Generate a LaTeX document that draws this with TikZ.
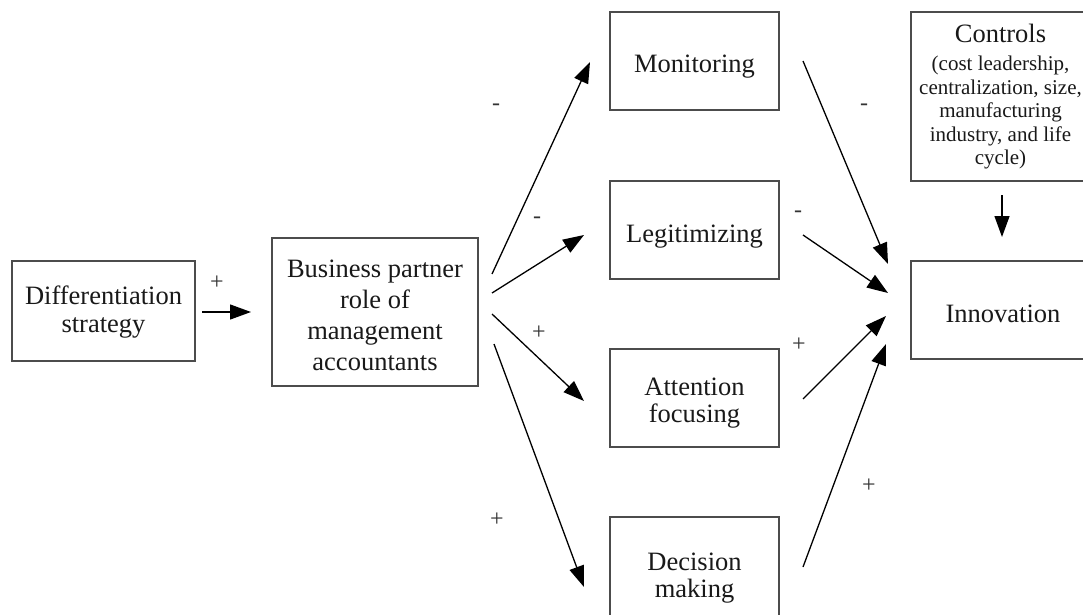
\documentclass[tikz,border=0pt]{standalone}
\usepackage{fontspec}
\setmainfont{Liberation Serif}
\usetikzlibrary{arrows.meta}
\newcommand\tb[2]{\begin{tabular}{@{}c@{}}\rule{0pt}{#1pt}#2\end{tabular}}
\begin{document}
\begin{tikzpicture}[x=1pt,y=-1pt,
  frame/.style={draw=black!70,line width=1.2pt,inner sep=0pt,text=black!90},
  box/.style={frame,font=\fontsize{26.5}{#1}\selectfont},
  box/.default=32,
  ctrlbox/.style={frame,font=\fontsize{21}{23.5}\selectfont},
  arr/.style={line width=1.3pt,-{Triangle[length=21pt,width=15pt]}},
  sign/.style={font=\fontsize{24}{24}\selectfont,text=black!80,inner sep=0pt}]
\useasboundingbox (0,0) rectangle (1083,615);
\clip (0,0) rectangle (1083,615);
\fill[white] (0,0) rectangle (1083,615);
\node[box=28,minimum width=183pt,minimum height=100pt] (diff) at (103.5,311) {\tb{22.4}{Differentiation\\strategy}};
\node[box=31,minimum width=206pt,minimum height=148pt] (bp) at (375,312) {\tb{32.3}{Business partner\\role of\\management\\accountants}};
\node[box,minimum width=169pt,minimum height=98pt] (mon) at (694.5,61) {\tb{33.6}{Monitoring}};
\node[box,minimum width=169pt,minimum height=98pt] (leg) at (694.5,230) {\tb{33.6}{Legitimizing}};
\node[box=27,minimum width=169pt,minimum height=98pt] (att) at (694.5,398) {\tb{29.1}{Attention\\focusing}};
\node[box=27,minimum width=169pt,minimum height=110pt] (dec) at (694.5,572) {\tb{31.1}{Decision\\making}};
\node[ctrlbox,minimum width=179pt,minimum height=169pt] (ctrl) at (1000.5,96.5) {\begin{tabular}{@{}c@{}}\rule{0pt}{22pt}{\fontsize{26.5}{30}\selectfont Controls}\\[4.5pt](cost leadership,\\centralization, size,\\manufacturing\\industry, and life\\cycle)\end{tabular}};
\node[box,minimum width=184pt,minimum height=98pt] (inn) at (1003,310) {\tb{33.6}{Innovation}};
% free ends of the connectors
\coordinate (d0) at (202,312); \coordinate (d1) at (251,312);
\coordinate (b1) at (492,274); \coordinate (m1) at (590,62);
\coordinate (b2) at (492,293); \coordinate (l1) at (584,235);
\coordinate (b3) at (492,314); \coordinate (a1) at (584,401);
\coordinate (b4) at (494,344); \coordinate (e1) at (584,587);
\coordinate (m2) at (803,61);  \coordinate (i1) at (888,264);
\coordinate (l2) at (803,235); \coordinate (i2) at (888,293);
\coordinate (a2) at (803,399); \coordinate (i3) at (886,316);
\coordinate (e2) at (803,567); \coordinate (i4) at (886,344);
\coordinate (c1) at (1002,195); \coordinate (c2) at (1002,237);
\draw[arr] (d0) -- (d1);
\draw[arr] (b1) -- (m1);
\draw[arr] (b2) -- (l1);
\draw[arr] (b3) -- (a1);
\draw[arr] (b4) -- (e1);
\draw[arr] (m2) -- (i1);
\draw[arr] (l2) -- (i2);
\draw[arr] (a2) -- (i3);
\draw[arr] (e2) -- (i4);
\draw[arr] (c1) -- (c2);
\node[sign] (s0) at (217,283) {+};
\node[sign] (s1) at (496,107) {-};
\node[sign] (s2) at (537,220) {-};
\node[sign] (s3) at (539,333) {+};
\node[sign] (s4) at (497,520) {+};
\node[sign] (s5) at (864,107) {-};
\node[sign] (s6) at (798,214) {-};
\node[sign] (s7) at (799,345) {+};
\node[sign] (s8) at (869,486) {+};
\end{tikzpicture}
\end{document}
